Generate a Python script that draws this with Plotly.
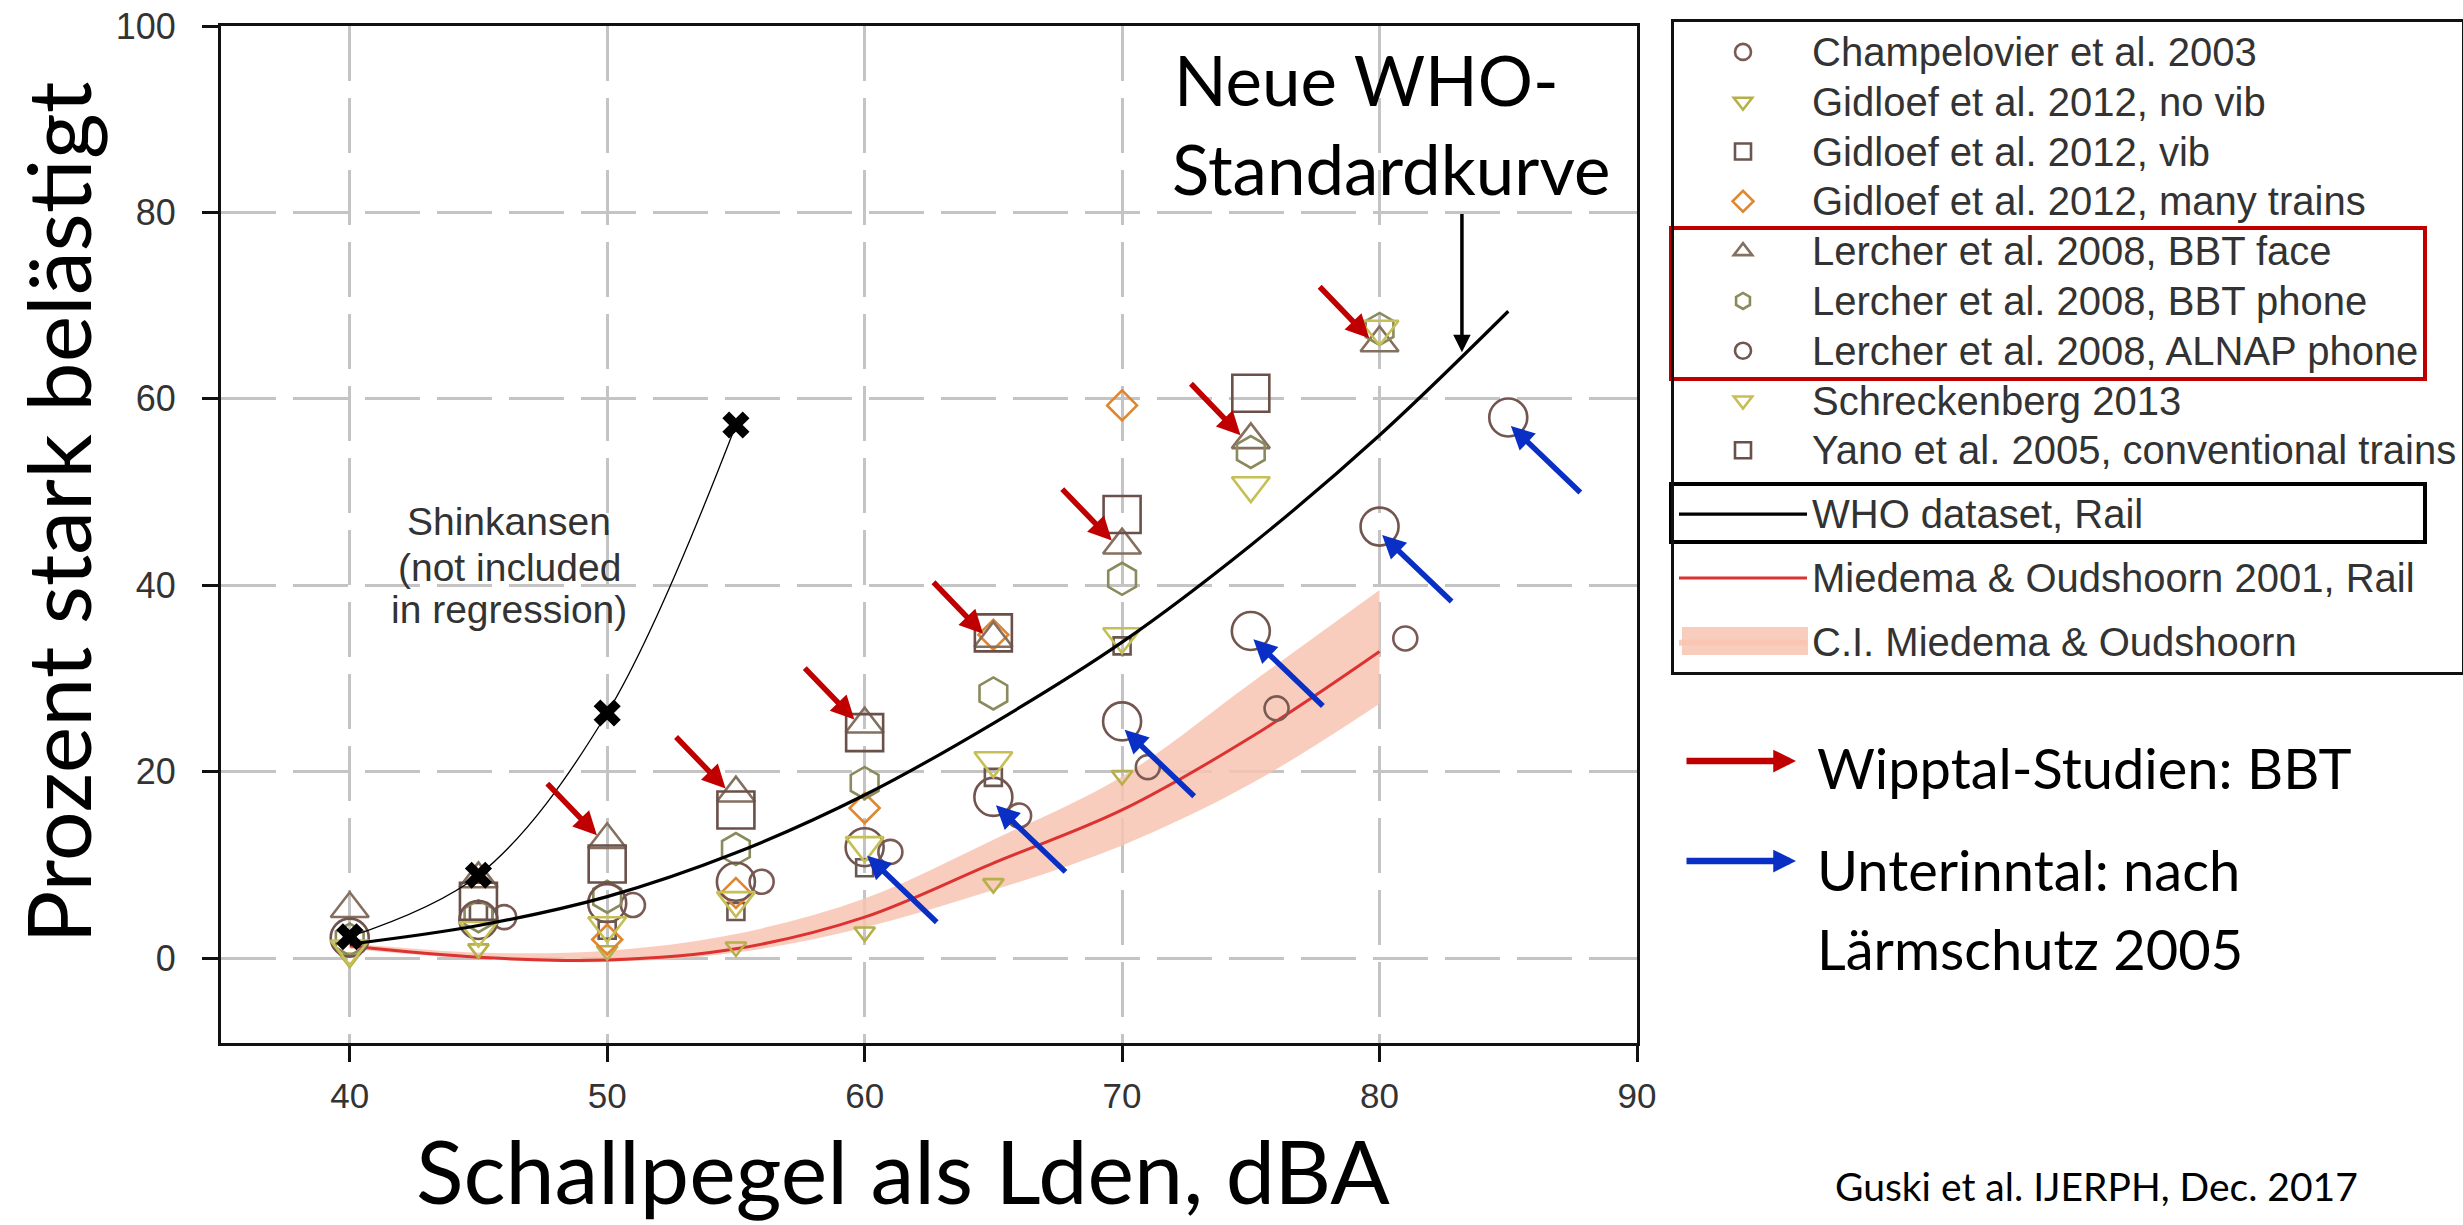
import plotly.graph_objects as go

# ---------------- data ----------------
champ_x = [46, 51, 56, 61, 66, 71, 76, 81]
champ_y = [4.4, 5.7, 8.2, 11.4, 15.3, 20.5, 26.8, 34.3]

gid_novib_x = [40, 45, 50, 55, 60, 65, 70]
gid_novib_y = [0.0, 1.0, 0.8, 1.2, 2.8, 8.0, 19.6]

gid_vib_x = [45, 50, 55, 60, 65, 70]
gid_vib_y = [5.0, 3.0, 5.0, 9.7, 19.4, 33.5]

gid_many_x = [50, 55, 60, 65, 70]
gid_many_y = [2.0, 7.0, 16.1, 34.7, 59.3]

ler_face_x = [40, 45, 50, 55, 60, 65, 70, 75, 80]
ler_face_y = [5.3, 8.5, 12.7, 17.7, 25.1, 34.3, 44.3, 55.6, 66.0]

ler_phone_x = [40, 45, 50, 55, 60, 65, 70, 75, 80]
ler_phone_y = [2.0, 4.5, 6.6, 11.7, 18.8, 28.4, 40.7, 54.3, 67.5]

alnap_x = [40, 45, 50, 55, 60, 65, 70, 75, 80, 85]
alnap_y = [2.2, 4.1, 5.9, 8.2, 11.9, 17.3, 25.4, 35.1, 46.3, 58.0]

schreck_x = [40, 45, 50, 55, 60, 65, 70, 75, 80]
schreck_y = [1.0, 3.0, 3.5, 6.2, 12.1, 21.2, 34.5, 50.7, 67.5]

yano_x = [45, 50, 55, 60, 65, 70, 75]
yano_y = [6.1, 10.1, 15.9, 24.2, 34.9, 47.6, 60.6]

shin_x = [40, 45, 50, 55]
shin_y = [2.3, 8.9, 26.3, 57.2]

who_x = [40, 45, 50, 55, 60, 65, 70, 75, 80, 85]
who_y = [1.5, 3.5, 6.6, 11.3, 17.5, 25.2, 33.9, 44.3, 56.1, 69.4]

mo_x = [40, 45, 50, 55, 60, 65, 70, 75, 80]
mo_y = [1.3, 0.1, -0.2, 1.0, 4.4, 10.2, 15.9, 23.7, 32.9]
ci_upper = [1.6, 0.6, 0.8, 2.6, 6.4, 12.7, 19.5, 29.5, 39.5]
ci_lower = [1.0, -0.1, -0.4, 0.6, 3.3, 7.3, 12.1, 18.7, 27.3]

x_ticks = [40, 50, 60, 70, 80, 90]
y_ticks = [0, 20, 40, 60, 80, 100]

# ---------------- figure ----------------
W, H = 2463, 1225
ML, MR, MT, MB = 221, 826, 26, 182
PW, PH = W - ML - MR, H - MT - MB
CI_COLOR = "rgba(248,196,178,0.85)"


def px_x(p):
    return (p - ML) / PW


def px_y(p):
    return (H - MB - p) / PH


def leg(name):
    return '<span style="font-size:40px">' + name + '</span>'


fig = go.Figure()

# CI band
fig.add_trace(go.Scatter(x=mo_x, y=ci_lower, mode="lines", line=dict(width=0, shape="spline"),
                         showlegend=False, hoverinfo="skip", legendgroup="ci"))
fig.add_trace(go.Scatter(x=mo_x, y=ci_upper, mode="lines", line=dict(width=0, shape="spline"),
                         fill="tonexty", fillcolor=CI_COLOR,
                         name=leg("C.I. Miedema &amp; Oudshoorn"), legendgroup="ci", legendrank=12))
fig.add_trace(go.Scatter(x=mo_x, y=mo_y, mode="lines", line=dict(color="#dc3232", width=3, shape="spline"),
                         name=leg("Miedema &amp; Oudshoorn 2001, Rail"), legendgroup="mo", legendrank=11))

series = [
    ("Champelovier et al. 2003", champ_x, champ_y, "circle-open", 24, "#7b5a55"),
    ("Gidloef et al. 2012, no vib", gid_novib_x, gid_novib_y, "triangle-down-open", 18, "#b5b04a"),
    ("Gidloef et al. 2012, vib", gid_vib_x, gid_vib_y, "square-open", 17, "#6b5750"),
    ("Gidloef et al. 2012, many trains", gid_many_x, gid_many_y, "diamond-open", 23, "#e0862e"),
    ("Lercher et al. 2008, BBT face", ler_face_x, ler_face_y, "triangle-up-open", 33, "#85705f"),
    ("Lercher et al. 2008, BBT phone", ler_phone_x, ler_phone_y, "hexagon-open", 32, "#8b8a5c"),
    ("Lercher et al. 2008, ALNAP phone", alnap_x, alnap_y, "circle-open", 38, "#735550"),
    ("Schreckenberg 2013", schreck_x, schreck_y, "triangle-down-open", 33, "#c6bf55"),
    ("Yano et al. 2005, conventional trains", yano_x, yano_y, "square-open", 37, "#6a5048"),
]
for i, (name, xs, ys, sym, size, col) in enumerate(series):
    fig.add_trace(go.Scatter(x=xs, y=ys, mode="markers", name=leg(name),
                             marker=dict(symbol=sym, size=size, color=col,
                                         line=dict(width=2.6, color=col)),
                             legendgroup="pts", legendrank=i + 1))

# Shinkansen
fig.add_trace(go.Scatter(x=shin_x, y=shin_y, mode="lines+markers", showlegend=False,
                         line=dict(color="black", width=1.3, shape="spline"),
                         marker=dict(symbol="x", size=24, color="black", line=dict(width=0))))

# WHO curve
fig.add_trace(go.Scatter(x=who_x, y=who_y, mode="lines", line=dict(color="black", width=3.2, shape="spline"),
                         name=leg("WHO dataset, Rail"), legendgroup="who", legendrank=10))

annotations = []
calibri = "Lato, Carlito, Calibri, sans-serif"
arial = "Liberation Sans, Arial, sans-serif"

# red arrows -> Lercher BBT points (50..80)
for xv, yv in zip(ler_face_x[2:], ler_face_y[2:]):
    annotations.append(dict(x=xv - 0.4, y=yv + 0.5, xref="x", yref="y", text="", showarrow=True,
                            ax=-51, ay=-53, arrowhead=2, arrowsize=0.85, arrowwidth=5.5,
                            arrowcolor="#c00000"))
# blue arrows -> ALNAP points (60..85)
for xv, yv in zip(alnap_x[4:], alnap_y[4:]):
    annotations.append(dict(x=xv + 0.1, y=yv - 0.9, xref="x", yref="y", text="", showarrow=True,
                            ax=71, ay=68, arrowhead=2, arrowsize=0.85, arrowwidth=5.5,
                            arrowcolor="#0a2fc4"))

# WHO label + arrow
annotations.append(dict(x=px_x(1172), y=px_y(80), xref="paper", yref="paper", xanchor="left",
                        yanchor="middle", text="Neue WHO-", showarrow=False,
                        font=dict(family=calibri, size=69, color="black")))
annotations.append(dict(x=px_x(1170), y=px_y(168), xref="paper", yref="paper", xanchor="left",
                        yanchor="middle", text="Standardkurve", showarrow=False,
                        font=dict(family=calibri, size=69, color="black")))
annotations.append(dict(x=83.2, y=65.0, xref="x", yref="y", ax=83.2, ay=80.0, axref="x", ayref="y",
                        text="", showarrow=True, arrowhead=2, arrowsize=1.0, arrowwidth=3.5,
                        arrowcolor="black"))

# Shinkansen text
for txt, yv in [("Shinkansen", 46.8), ("(not included", 41.95), ("in regression)", 37.4)]:
    annotations.append(dict(x=46.2, y=yv, xref="x", yref="y", text=txt, showarrow=False,
                            xanchor="center", yanchor="middle",
                            font=dict(family=arial, size=39, color="#333333")))

# side legend arrows and texts
annotations.append(dict(x=px_x(1796), y=px_y(761), xref="paper", yref="paper", text="", showarrow=True,
                        ax=-111, ay=0, arrowhead=2, arrowsize=0.7, arrowwidth=6.5, arrowcolor="#c00000"))
annotations.append(dict(x=px_x(1796), y=px_y(861), xref="paper", yref="paper", text="", showarrow=True,
                        ax=-111, ay=0, arrowhead=2, arrowsize=0.7, arrowwidth=6.5, arrowcolor="#0a2fc4"))
for txt, yp in [("Wipptal-Studien: BBT", 767), ("Unterinntal: nach", 869), ("Lärmschutz 2005", 948)]:
    annotations.append(dict(x=px_x(1815), y=px_y(yp), xref="paper", yref="paper", xanchor="left",
                            yanchor="middle", text=txt, showarrow=False,
                            font=dict(family=calibri, size=56, color="black")))
annotations.append(dict(x=px_x(1833), y=px_y(1186), xref="paper", yref="paper", xanchor="left",
                        yanchor="middle", text="Guski et al. IJERPH, Dec. 2017", showarrow=False,
                        font=dict(family=calibri, size=39, color="black")))

# axis titles
annotations.append(dict(x=px_x(903), y=px_y(1170), xref="paper", yref="paper", xanchor="center",
                        yanchor="middle", text="Schallpegel als Lden, dBA", showarrow=False,
                        font=dict(family=calibri, size=88, color="black")))
annotations.append(dict(x=px_x(56), y=px_y(512.5), xref="paper", yref="paper", xanchor="center",
                        yanchor="middle", text="Prozent stark belästigt", showarrow=False, textangle=-90,
                        font=dict(family=calibri, size=88, color="black")))

shapes = [
    dict(type="rect", xref="paper", yref="paper", x0=px_x(1671), x1=px_x(2425), y0=px_y(379), y1=px_y(228),
         line=dict(color="#c00000", width=4)),
    dict(type="rect", xref="paper", yref="paper", x0=px_x(1671), x1=px_x(2425), y0=px_y(542), y1=px_y(484),
         line=dict(color="black", width=4)),
    # wider swatch for the C.I. legend entry
    dict(type="rect", xref="paper", yref="paper", x0=px_x(1682), x1=px_x(1808), y0=px_y(655), y1=px_y(627),
         line=dict(width=0), fillcolor=CI_COLOR),
]

fig.update_layout(
    width=W, height=H,
    margin=dict(l=ML, r=MR, t=MT, b=MB, pad=0, autoexpand=False),
    paper_bgcolor="white", plot_bgcolor="white",
    font=dict(family=arial, color="#333333"),
    showlegend=True,
    legend=dict(x=px_x(1671), y=px_y(19), xanchor="left", yanchor="top",
                bordercolor="#111111", borderwidth=3, bgcolor="rgba(0,0,0,0)",
                font=dict(family=arial, size=36, color="#333333"),
                itemwidth=128, tracegroupgap=14, traceorder="grouped", maxheight=1100),
    annotations=annotations,
    shapes=shapes,
)
fig.update_xaxes(range=[35, 90], tickvals=x_ticks, ticks="outside", ticklen=16, tickwidth=3,
                 tickcolor="#111111", showline=True, linecolor="#111111", linewidth=3, mirror=True,
                 showgrid=True, gridcolor="#c4c4c4", gridwidth=3, griddash="55px,17px", zeroline=False,
                 tickfont=dict(family=arial, size=35, color="#333333"), ticklabelstandoff=4)
fig.update_yaxes(range=[-9.1, 100], tickvals=y_ticks, ticks="outside", ticklen=16, tickwidth=3,
                 tickcolor="#111111", showline=True, linecolor="#111111", linewidth=3, mirror=True,
                 showgrid=True, gridcolor="#c4c4c4", gridwidth=3, griddash="55px,17px", zeroline=False,
                 tickfont=dict(family=arial, size=36, color="#333333"), ticklabelstandoff=19)

fig.write_html("out.html", config={"displayModeBar": False},
               post_script="document.body.style.margin='0px';document.body.style.overflow='hidden';")
